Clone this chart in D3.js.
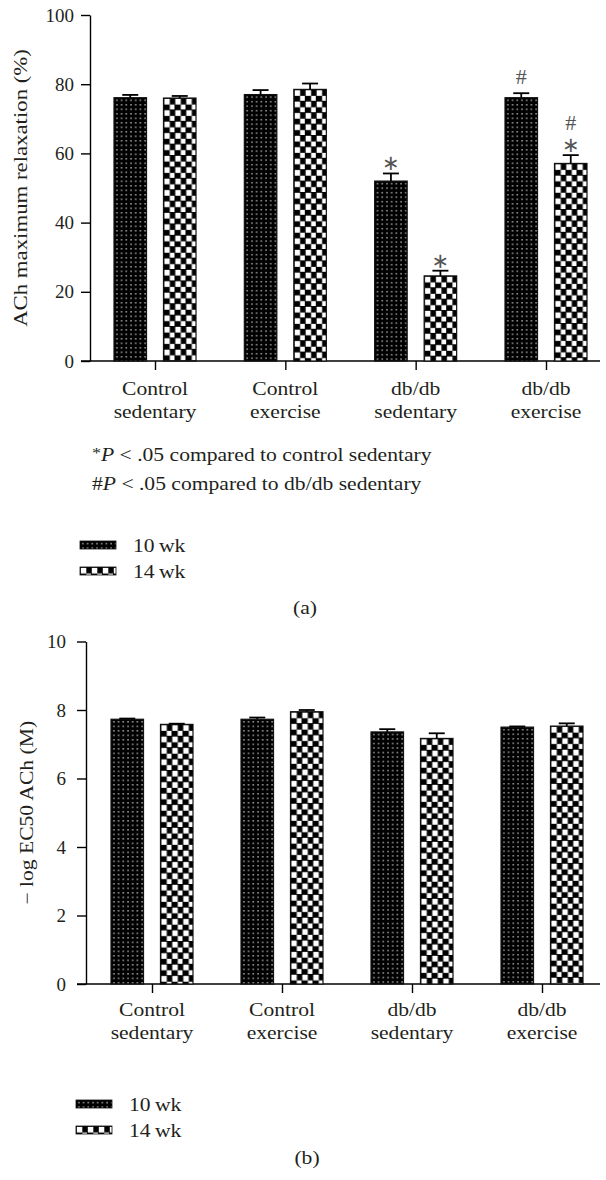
<!DOCTYPE html>
<html>
<head>
<meta charset="utf-8">
<script src="https://cdn.jsdelivr.net/npm/d3@7"></script>
<style>
  html, body { margin: 0; padding: 0; background: #fff; }
  svg { display: block; }
</style>
</head>
<body>
<svg id="chart" width="606" height="1180"></svg>
<script>
// ---------------- DATA ----------------
const categories = [["Control", "sedentary"], ["Control", "exercise"], ["db/db", "sedentary"], ["db/db", "exercise"]];
const seriesNames = ["10 wk", "14 wk"];

// Panel (a): ACh maximum relaxation (%)
const relax10 = [76.1, 77.0, 52.0, 76.1];
const relax10Err = [0.8, 1.3, 2.2, 1.3];
const relax14 = [76.0, 78.5, 24.6, 57.1];
const relax14Err = [0.6, 1.7, 1.5, 2.4];
const relax10Sig = [[], [], ["∗"], ["#"]];
const relax14Sig = [[], [], ["∗"], ["∗", "#"]];
const yTicksA = [0, 20, 40, 60, 80, 100];

// Panel (b): -log EC50 ACh (M)
const ec10 = [7.73, 7.73, 7.36, 7.50];
const ec10Err = [0.02, 0.05, 0.08, 0.02];
const ec14 = [7.58, 7.95, 7.17, 7.53];
const ec14Err = [0.02, 0.05, 0.15, 0.08];
const yTicksB = [0, 2, 4, 6, 8, 10];

const footnotes = [["*", "P", " < .05 compared to control sedentary"], ["#", "P", " < .05 compared to db/db sedentary"]];

// ---------------- DRAWING ----------------
const FONT = "'Liberation Serif', 'Times New Roman', serif";
const SX = 1.2;   // horizontal stretch of word text
const TXT = "#231f20";
const svg = d3.select("#chart");

// patterns
const defs = svg.append("defs");
const pDots = defs.append("pattern").attr("id", "dots").attr("patternUnits", "userSpaceOnUse")
  .attr("width", 4.7).attr("height", 4.5);
pDots.append("rect").attr("width", 4.7).attr("height", 4.5).attr("fill", "#000");
pDots.append("rect").attr("x", 2.3).attr("y", 2.0).attr("width", 1.2).attr("height", 1.2).attr("fill", "#fff");

const pChk = defs.append("pattern").attr("id", "checker").attr("patternUnits", "userSpaceOnUse")
  .attr("width", 11).attr("height", 11.4);
pChk.append("rect").attr("width", 11).attr("height", 11.4).attr("fill", "#000");
pChk.append("rect").attr("x", 0.8).attr("y", 0.8).attr("width", 5.5).attr("height", 5.7).attr("fill", "#fff");
pChk.append("rect").attr("x", 6.3).attr("y", 6.5).attr("width", 5.5).attr("height", 5.7).attr("fill", "#fff");

const fills = ["url(#dots)", "url(#checker)"];

function stretchText(parent, x, y, anchor, size, rot) {
  const g = parent.append("g")
    .attr("transform", `translate(${x},${y})` + (rot ? ` rotate(${rot})` : "") + ` scale(${SX},1)`);
  return g.append("text")
    .attr("text-anchor", anchor)
    .attr("font-family", FONT)
    .attr("font-size", size)
    .attr("fill", TXT);
}

function panel(cfg) {
  const g = svg.append("g");
  const y = d3.scaleLinear().domain([cfg.ticks[0], cfg.ticks[cfg.ticks.length - 1]]).range([cfg.y0, cfg.y1]);
  const x = d3.scalePoint().domain(d3.range(categories.length)).range([cfg.c0, cfg.c1]);
  const xs = d3.scaleBand().domain(seriesNames).range([-41, 41]).paddingInner(0.343).paddingOuter(0);

  // y axis
  const ya = g.append("g").attr("transform", `translate(${cfg.ax},0)`)
    .call(d3.axisLeft(y).tickValues(cfg.ticks).tickSize(9).tickPadding(cfg.pad).tickSizeOuter(0));
  ya.selectAll("path,line").attr("stroke", "#000").attr("stroke-width", 1.4);
  ya.selectAll("text").attr("font-family", FONT).attr("font-size", 19).attr("fill", TXT);

  // x baseline + ticks
  g.append("line").attr("x1", cfg.ax - 9).attr("x2", 600).attr("y1", y(0)).attr("y2", y(0))
    .attr("stroke", "#000").attr("stroke-width", 1.4);
  const xa = g.append("g").attr("transform", `translate(0,${y(0)})`)
    .call(d3.axisBottom(x).tickSize(9).tickSizeOuter(0).tickFormat(""));
  xa.select(".domain").remove();
  xa.selectAll("line").attr("stroke", "#000").attr("stroke-width", 1.4);

  // category labels
  categories.forEach((c, i) => {
    const t = stretchText(g, x(i), cfg.labY, "middle", 18);
    c.forEach((line, k) => t.append("tspan").attr("x", 0).attr("dy", k === 0 ? 0 : 23.5).text(line));
  });

  // bars
  cfg.series.forEach((s, si) => {
    s.vals.forEach((v, i) => {
      const bx = x(i) + xs(seriesNames[si]);
      const bw = xs.bandwidth();
      const top = y(v);
      const capY = y(v + s.err[i]);
      const bg = g.append("g").attr("transform", `translate(${bx},${top})`);
      bg.append("rect").attr("x", 0).attr("y", 0).attr("width", bw).attr("height", y(0) - top)
        .attr("fill", fills[si]).attr("stroke", "#111").attr("stroke-width", 1.2);
      // error bar
      g.append("line").attr("x1", bx + bw / 2).attr("x2", bx + bw / 2).attr("y1", top).attr("y2", capY)
        .attr("stroke", "#000").attr("stroke-width", 1.8);
      g.append("line").attr("x1", bx + bw / 2 - 8).attr("x2", bx + bw / 2 + 8).attr("y1", capY).attr("y2", capY)
        .attr("stroke", "#000").attr("stroke-width", 1.8);
      // significance marks
      if (s.sig) {
        s.sig[i].forEach((m, k) => {
          const cy = capY - 11 - k * 21;
          if (m === "#") {
            g.append("text").attr("x", bx + bw / 2).attr("y", cy + (k === 0 ? 2 : 7)).attr("text-anchor", "middle")
              .attr("font-family", FONT).attr("font-size", 22).attr("fill", "#555").text("#");
          } else {
            g.append("text").attr("x", bx + bw / 2).attr("y", cy + 8).attr("text-anchor", "middle")
              .attr("font-family", "'DejaVu Sans', sans-serif").attr("font-size", 21).attr("fill", "#555").text(m);
          }
        });
      }
    });
  });

  // y-axis title
  stretchText(g, cfg.titleX, (cfg.y0 + cfg.y1) / 2, "middle", cfg.titleSize, -90).text(cfg.title);

  // legend
  seriesNames.forEach((n, k) => {
    const ly = cfg.legY + k * 26;
    g.append("g").attr("transform", `translate(${cfg.legX},${ly})`)
      .append("rect").attr("width", 36).attr("height", 8).attr("fill", fills[k])
      .attr("stroke", "#111").attr("stroke-width", 0.8);
    stretchText(g, cfg.legX + 53, ly + 11, "start", 18).text(n.replace(" ", "\u2009"));
  });

  // panel letter
  stretchText(g, cfg.letX, cfg.letY, "middle", 18).text(cfg.letter);
  return { g, y, x };
}

panel({
  ticks: yTicksA, y0: 361, y1: 15, ax: 90, pad: 7, c0: 155, c1: 546,
  labY: 395,
  series: [{ vals: relax10, err: relax10Err, sig: relax10Sig }, { vals: relax14, err: relax14Err, sig: relax14Sig }],
  title: "ACh maximum relaxation (%)", titleX: 27, titleSize: 19,
  legX: 80, legY: 541, letX: 305, letY: 614, letter: "(a)"
});

// footnotes for panel (a)
footnotes.forEach((f, k) => {
  const t = stretchText(svg, 92, 461 + k * 29, "start", 18);
  t.append("tspan").attr("font-size", f[0] === "*" ? 15 : 18).attr("dy", f[0] === "*" ? -3 : 0).text(f[0]);
  t.append("tspan").attr("font-style", "italic").attr("dy", f[0] === "*" ? 3 : 0).text(f[1]);
  t.append("tspan").text(f[2]);
});

panel({
  ticks: yTicksB, y0: 984, y1: 641.5, ax: 86, pad: 11, c0: 152, c1: 542,
  labY: 1016,
  series: [{ vals: ec10, err: ec10Err }, { vals: ec14, err: ec14Err }],
  title: "\u2212 log EC50 ACh (M)", titleX: 33, titleSize: 18,
  legX: 76, legY: 1100, letX: 307, letY: 1164, letter: "(b)"
});
</script>
</body>
</html>
